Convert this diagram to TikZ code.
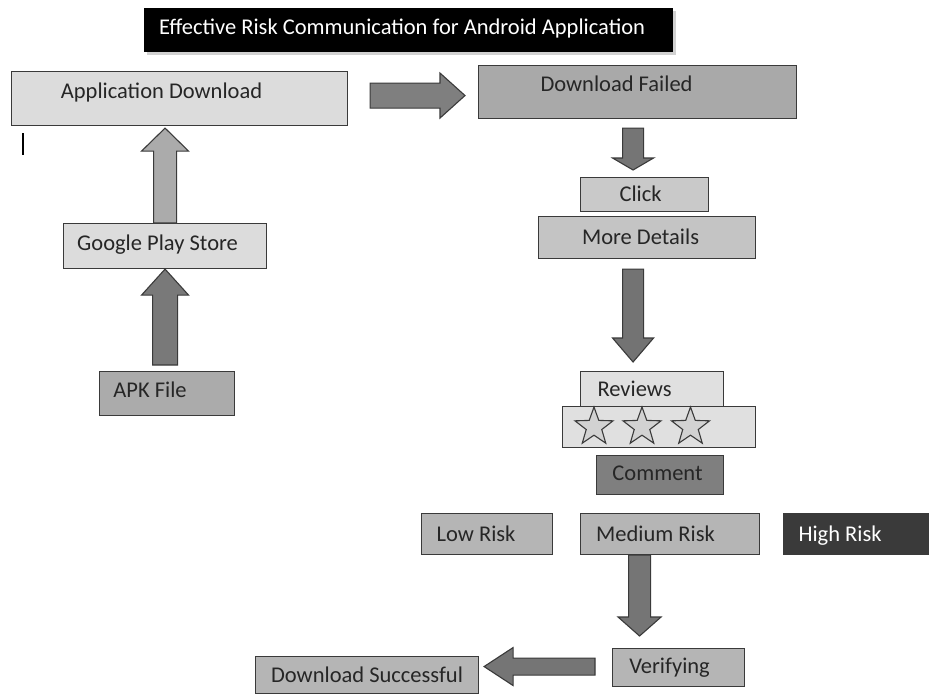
\documentclass[tikz,border=0pt]{standalone}
\usepackage{fontspec}
\setmainfont{Carlito}
\usetikzlibrary{calc,shapes.geometric,shadows}
\definecolor{edge}{HTML}{3A3A3A}
\definecolor{ink}{HTML}{262626}
\definecolor{cLight}{HTML}{DCDCDC}
\definecolor{cPale}{HTML}{E0E0E0}
\definecolor{cMid}{HTML}{B5B5B5}
\definecolor{cFail}{HTML}{A9A9A9}
\definecolor{cClick}{HTML}{C9C9C9}
\definecolor{cMore}{HTML}{C4C4C4}
\definecolor{cComment}{HTML}{7F7F7F}
\definecolor{cHigh}{HTML}{3A3A3A}
\definecolor{cApk}{HTML}{ABABAB}
\definecolor{cStar}{HTML}{D2D2D2}
\newcommand{\fatarrow}[6]{%
  \coordinate (fas) at #2;
  \coordinate (fat) at #3;
  \coordinate (fah) at ($(fat)!#6!(fas)$);
  \draw[#1] ($(fas)!#4!90:(fat)$) -- ($(fah)!#4!90:(fat)$) -- ($(fah)!#5!90:(fat)$)
    -- (fat) -- ($(fah)!#5!-90:(fat)$) -- ($(fah)!#4!-90:(fat)$) -- ($(fas)!#4!-90:(fat)$) -- cycle;
}
\tikzset{
  box/.style n args={3}{draw=edge, line width=1.1pt, fill=#3, inner sep=0pt,
    minimum width=#1, minimum height=#2, anchor=north west},
  txt/.style={font=\fontsize{22.5}{25}\selectfont, text=ink, inner sep=0pt,
    text height=0.68em, text depth=0.2em, yshift=-5pt},
  wtxt/.style={txt, text=white},
  blockarrow/.style={draw=edge, line width=1.1pt, line join=miter, fill=#1},
  starshape/.style={star, star points=5, star point ratio=2.45, minimum size=40pt,
    inner sep=0pt, draw=edge, line width=1.1pt, fill=cStar},
}
\begin{document}
\begin{tikzpicture}[x=1pt,y=-1pt]
\useasboundingbox[fill=white] (0,0) rectangle (929,694);

% title
\node[box={529pt}{44pt}{black}, draw=none,
  drop shadow={shadow xshift=3pt, shadow yshift=-3pt, fill=gray!45, opacity=0.8},
  label={[wtxt,xshift=-6pt,yshift=2pt]center:Effective Risk Communication for Android Application}]
  (title) at (143,7) {};

% left column
\node[box={336pt}{54pt}{cLight}, label={[txt,xshift=-18pt,yshift=7pt]center:Application Download}] (appdl) at (11,71) {};
\node[box={203pt}{45pt}{cLight}, label={[txt,xshift=-7.5pt,yshift=2.5pt]center:Google Play Store}] (gps) at (63,223) {};
\node[box={135pt}{44pt}{cApk}, label={[txt,xshift=-17pt,yshift=3pt]center:APK File}] (apk) at (99,371) {};
\draw[line width=2.5pt, black] (23,133) -- (23,155);

% right column
\node[box={318pt}{53pt}{cFail}, label={[txt,xshift=-21pt,yshift=7.5pt]center:Download Failed}] (dlfail) at (478,65) {};
\node[box={128pt}{34pt}{cClick}, label={[txt,xshift=-4pt]center:Click}] (click) at (580,177) {};
\node[box={217pt}{42pt}{cMore}, label={[txt,xshift=-6.5pt]center:More Details}] (moredet) at (538,216) {};
\node[box={143pt}{35pt}{cPale}, label={[txt,xshift=-17.5pt]center:Reviews}] (reviews) at (580,371) {};
\node[box={193pt}{41pt}{cPale}] (stars) at (562,406) {};
\node[starshape] (star1) at (594,427) {};
\node[starshape] (star2) at (642,427) {};
\node[starshape] (star3) at (690.5,427) {};
\node[box={127pt}{39pt}{cComment}, label={[txt,xshift=-2.5pt,yshift=1.5pt]center:Comment}] (comment) at (596,455) {};

\node[box={131pt}{41pt}{cMid}, label={[txt,xshift=-11pt]center:Low Risk}] (low) at (421,513) {};
\node[box={179pt}{41pt}{cMid}, label={[txt,xshift=-14.5pt]center:Medium Risk}] (medium) at (580,513) {};
\node[box={150pt}{41pt}{cHigh}, label={[wtxt,xshift=-18.5pt]center:High Risk}] (high) at (783,513) {};

\node[box={132pt}{38pt}{cMid}, label={[txt,xshift=-9pt,yshift=1pt]center:Verifying}] (verif) at (612,648) {};
\node[box={223pt}{37pt}{cMid}, label={[txt]center:Download Successful}] (dlsucc) at (255,656) {};

% block arrows
\fatarrow{blockarrow=cComment!95!black}{([yshift=6pt]gps.south |- apk.north)}{(gps.south)}{12.5pt}{23.5pt}{26pt}
\fatarrow{blockarrow=cApk}{(gps.north)}{([yshift=-2pt]gps.north |- appdl.south)}{11.5pt}{23.5pt}{23pt}
\fatarrow{blockarrow=cComment}{([xshift=22pt,yshift=3pt]appdl.east)}{([xshift=-13pt,yshift=3pt]dlfail.west |- appdl.east)}{12.5pt}{22.5pt}{25pt}
\fatarrow{blockarrow=gray!92!black}{([xshift=-4.5pt,yshift=-9pt]dlfail.south)}{([xshift=-4.5pt,yshift=7pt]dlfail.south |- click.north)}{10.5pt}{20.5pt}{12pt}
\fatarrow{blockarrow=gray!90!black}{([xshift=-14pt,yshift=-10pt]moredet.south)}{([xshift=-14pt,yshift=9pt]moredet.south |- reviews.north)}{10.5pt}{20.5pt}{24pt}
\fatarrow{blockarrow=gray!92!black}{([xshift=-30.5pt]medium.south)}{([xshift=-30.5pt,yshift=12pt]medium.south |- verif.north)}{11pt}{21.5pt}{19pt}
\fatarrow{blockarrow=gray!92!black}{([xshift=-17pt,yshift=1pt]verif.west)}{([xshift=5pt,yshift=1pt]dlsucc.east |- verif.west)}{8.5pt}{19pt}{29pt}
\end{tikzpicture}
\end{document}
